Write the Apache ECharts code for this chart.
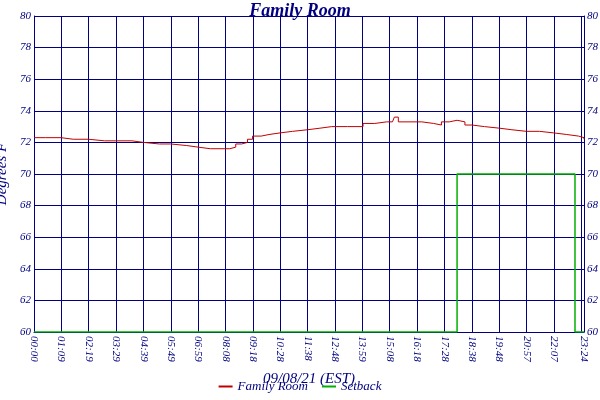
<!DOCTYPE html>
<html><head><meta charset="utf-8">
<script src="https://cdn.jsdelivr.net/npm/echarts@6/dist/echarts.min.js"></script>
<style>html,body{margin:0;padding:0;background:#fff}#c{width:600px;height:400px}</style>
</head><body><div id="c"></div>
<script>
// minutes since midnight
const tempTimes = [0,30,69,100,139,180,209,250,279,320,349,390,419,450,488,500,515,530,545,558,580,600,628,660,698,730,760,800,840,870,900,915,920,930,960,990,1020,1040,1060,1080,1100,1118,1150,1188,1220,1257,1290,1327,1360,1390,1404];
const tempValues = [72.3,72.3,72.2,72.2,72.1,72.1,72.1,72.0,71.9,71.9,71.8,71.7,71.6,71.6,71.6,71.7,71.9,72.0,72.2,72.4,72.5,72.6,72.7,72.8,72.9,73.0,73.0,73.0,73.2,73.3,73.3,73.4,73.6,73.3,73.3,73.2,73.1,73.3,73.4,73.3,73.1,73.0,72.9,72.8,72.7,72.7,72.6,72.5,72.4,72.3,72.2];
const setbackTimes = [0,1080,1080,1381,1381,1404];
const setbackValues = [60,60,70,70,60,60];
const tickLabels = ['00:00','01:09','02:19','03:29','04:39','05:49','06:59','08:08','09:18','10:28','11:38','12:48','13:59','15:08','16:18','17:28','18:38','19:48','20:57','22:07','23:17'];
const endLabel = '23:24';
const tickInterval = 69.85;

const font="Liberation Serif";
const navy='#000080';
function fmt(v){ if(Math.abs(v-1404)<0.5) return endLabel; return tickLabels[Math.round(v/tickInterval)]||''; }
const chart=echarts.init(document.getElementById('c'));
chart.setOption({
  animation:false,
  title:{text:'Family Room',left:'center',top:-3,textStyle:{fontFamily:font,fontStyle:'italic',fontWeight:'bold',fontSize:18,color:navy}},
  legend:{bottom:2,left:'center',itemWidth:14,itemHeight:2,icon:'rect',itemGap:14,textStyle:{fontFamily:font,fontStyle:'italic',fontSize:13,color:navy},
    data:['Family Room','Setback']},
  grid:{left:34,right:16,top:16,bottom:68,outerBoundsMode:'none',containLabel:false},
  xAxis:{type:'value',min:0,max:1404,interval:tickInterval,name:'09/08/21 (EST)',nameLocation:'middle',nameGap:40,
    nameTextStyle:{fontFamily:font,fontStyle:'italic',fontSize:15,color:navy},
    axisLine:{lineStyle:{color:navy}},axisTick:{show:false},
    axisLabel:{rotate:-90,formatter:fmt,fontFamily:font,fontStyle:'italic',fontSize:11,color:navy,showMaxLabel:true,hideOverlap:false,margin:4},
    splitLine:{show:true,lineStyle:{color:navy,width:1}}},
  yAxis:[{type:'value',min:60,max:80,interval:2,name:'Degrees F',nameLocation:'middle',nameGap:22,
    nameTextStyle:{fontFamily:font,fontStyle:'italic',fontSize:15,color:navy},
    axisLine:{show:true,lineStyle:{color:navy}},axisTick:{show:false},
    axisLabel:{fontFamily:font,fontStyle:'italic',fontSize:11,color:navy,margin:3},
    splitLine:{lineStyle:{color:navy,width:1}}},
   {type:'value',min:60,max:80,interval:2,position:'right',
    axisLine:{show:true,lineStyle:{color:navy}},axisTick:{show:false},
    axisLabel:{fontFamily:font,fontStyle:'italic',fontSize:11,color:navy,margin:3},splitLine:{show:false}}],
  series:[
    {name:'Family Room',type:'line',step:'end',showSymbol:false,data:tempTimes.map((t,i)=>[t,tempValues[i]]),lineStyle:{color:'#c00000',width:1},itemStyle:{color:'#c00000'}},
    {name:'Setback',type:'line',showSymbol:false,data:setbackTimes.map((t,i)=>[t,setbackValues[i]]),lineStyle:{color:'#00b000',width:1.5},itemStyle:{color:'#00b000'}}
  ]
});
</script></body></html>
